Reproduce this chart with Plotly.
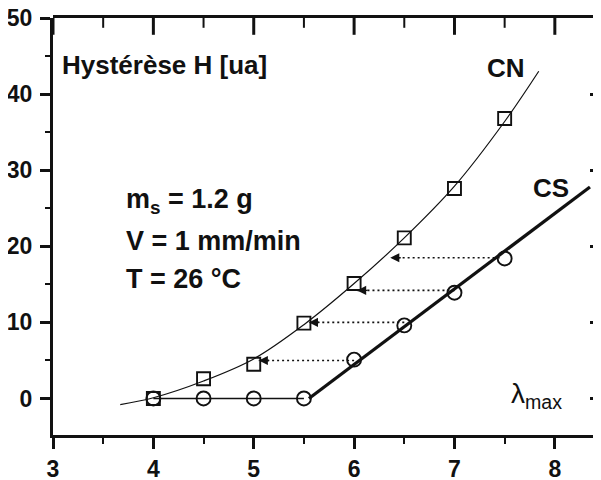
import plotly.graph_objects as go

# ---- data ----
cn_x = [4, 4.5, 5, 5.5, 6, 6.5, 7, 7.5]
cn_y = [0, 2.6, 4.5, 9.9, 15.1, 21.1, 27.6, 36.8]
cs_x = [4, 4.5, 5, 5.5, 6, 6.5, 7, 7.5]
cs_y = [0, 0, 0, 0, 5.1, 9.6, 13.9, 18.4]

cn_fit_x = [3.67, 4, 4.5, 5, 5.5, 6, 6.5, 7, 7.5, 7.84]
cn_fit_y = [-0.8, 0.1, 2.3, 5.2, 9.7, 15.1, 21.1, 27.9, 36.4, 43.0]

cs_flat_x = [4, 5.5]
cs_flat_y = [0, 0]
cs_fit_x = [5.55, 8.35]
cs_fit_y = [0, 27.8]

arrow_y = [5.0, 10.0, 14.2, 18.5]
arrow_from = [6.0, 6.5, 7.0, 7.45]
arrow_to = [5.05, 5.55, 6.03, 6.36]

x_ticks = [3, 4, 5, 6, 7, 8]
y_ticks = [0, 10, 20, 30, 40, 50]

X_RANGE = [3, 8.46]
Y_RANGE = [-4.8, 50]

FONT = "Liberation Sans, Arial, sans-serif"
BLACK = "#111111"

fig = go.Figure()

# dotted horizontal arrows (CS -> CN)
for xf, xt, yy in zip(arrow_from, arrow_to, arrow_y):
    fig.add_trace(go.Scatter(x=[xf, xt], y=[yy, yy], mode="lines",
                             line=dict(color=BLACK, width=1.6, dash="2px,3px"),
                             showlegend=False, hoverinfo="skip"))

# CN fit curve
fig.add_trace(go.Scatter(x=cn_fit_x, y=cn_fit_y, mode="lines",
                         line=dict(color=BLACK, width=1.2, shape="spline", smoothing=1.0),
                         showlegend=False, hoverinfo="skip"))
# CS flat part
fig.add_trace(go.Scatter(x=cs_flat_x, y=cs_flat_y, mode="lines",
                         line=dict(color=BLACK, width=1.5),
                         showlegend=False, hoverinfo="skip"))
# CS linear fit (thick; drawn on the right y axis twin, same range)
fig.add_trace(go.Scatter(x=cs_fit_x, y=cs_fit_y, mode="lines", xaxis="x", yaxis="y2",
                         line=dict(color=BLACK, width=3.2),
                         showlegend=False, hoverinfo="skip"))

# markers
fig.add_trace(go.Scatter(x=cs_x, y=cs_y, mode="markers",
                         marker=dict(symbol="circle-open", size=14, color=BLACK,
                                     line=dict(width=1.9, color=BLACK)),
                         showlegend=False, name="CS"))
fig.add_trace(go.Scatter(x=cn_x, y=cn_y, mode="markers",
                         marker=dict(symbol="square-open", size=13, color=BLACK,
                                     line=dict(width=1.9, color=BLACK)),
                         showlegend=False, name="CN"))

# top axis inward ticks: vertical-line markers centred on the top edge,
# their upper half is clipped away by the plot area
top_minor = [v + 0.5 for v in x_ticks if v + 0.5 < X_RANGE[1]]
fig.add_trace(go.Scatter(x=x_ticks, y=[Y_RANGE[1]] * len(x_ticks), mode="markers",
                         marker=dict(symbol="line-ns-open", size=24, color=BLACK,
                                     line=dict(width=3, color=BLACK)),
                         cliponaxis=True, showlegend=False, hoverinfo="skip"))
fig.add_trace(go.Scatter(x=top_minor, y=[Y_RANGE[1]] * len(top_minor), mode="markers",
                         marker=dict(symbol="line-ns-open", size=14, color=BLACK,
                                     line=dict(width=2, color=BLACK)),
                         cliponaxis=True, showlegend=False, hoverinfo="skip"))

# arrowheads
for xt, yy in zip(arrow_to, arrow_y):
    fig.add_annotation(x=xt, y=yy, ax=12, ay=0, text="", showarrow=True,
                       arrowhead=2, arrowsize=1.3, arrowwidth=1.4, arrowcolor=BLACK,
                       standoff=0)

def txt(x, y, s, size=26, xanchor="left", weight="bold"):
    fig.add_annotation(x=x, y=y, text=s, showarrow=False, xanchor=xanchor,
                       yanchor="middle",
                       font=dict(family=FONT, size=size, color=BLACK, weight=weight))

txt(3.07, 43.8, "Hystérèse H [ua]")
txt(7.51, 43.4, "CN", xanchor="center")
txt(7.96, 27.6, "CS", xanchor="center")
txt(3.71, 25.9, "m<sub>s</sub> = 1.2 g", size=27)
txt(3.71, 20.7, "V = 1 mm/min", size=27)
txt(3.71, 15.7, "T = 26 °C", size=27)
txt(7.54, 0.4, "λ<sub>max</sub>", size=28, weight="normal")

# top frame line
fig.add_shape(type="line", xref="paper", yref="paper", x0=0, x1=1,
              ysizemode="pixel", yanchor=1, y0=1.5, y1=1.5,
              line=dict(color=BLACK, width=3))

# the page body has an 8px default margin, so the figure is shrunk by 8px
fig.update_layout(
    width=593, height=472,
    margin=dict(l=45, r=0, t=10, b=45, autoexpand=False),
    paper_bgcolor="white", plot_bgcolor="white",
    font=dict(family=FONT, color=BLACK),
    xaxis=dict(range=X_RANGE, tickmode="array", tickvals=x_ticks,
               ticktext=[str(v) for v in x_ticks],
               showline=True, linewidth=3, linecolor=BLACK,
               ticks="outside", ticklen=11, tickwidth=3, tickcolor=BLACK,
               minor=dict(ticks="outside", ticklen=6, tickwidth=2, dtick=0.5, tick0=3,
                          tickcolor=BLACK),
               tickfont=dict(family=FONT, size=23, color=BLACK, weight="bold"),
               showgrid=False, zeroline=False, ticklabeloverflow="allow"),
    yaxis=dict(range=Y_RANGE, tickmode="array", tickvals=y_ticks,
               ticktext=[str(v) for v in y_ticks],
               showline=True, linewidth=3, linecolor=BLACK,
               ticks="outside", ticklen=10, tickwidth=3, tickcolor=BLACK,
               minor=dict(ticks="outside", ticklen=5, tickwidth=2, dtick=5, tick0=0,
                          tickcolor=BLACK),
               tickfont=dict(family=FONT, size=23, color=BLACK, weight="bold"),
               ticklabelstandoff=3,
               showgrid=False, zeroline=False, ticklabeloverflow="allow"),
    yaxis2=dict(range=Y_RANGE, overlaying="y", side="right",
                tickmode="linear", tick0=0, dtick=10,
                showline=False, showticklabels=False,
                ticks="inside", ticklen=11, tickwidth=3, tickcolor=BLACK,
                minor=dict(ticks="inside", ticklen=5, tickwidth=2, dtick=5, tick0=0,
                           tickcolor=BLACK),
                showgrid=False, zeroline=False),
)

fig.write_html("out.html")
